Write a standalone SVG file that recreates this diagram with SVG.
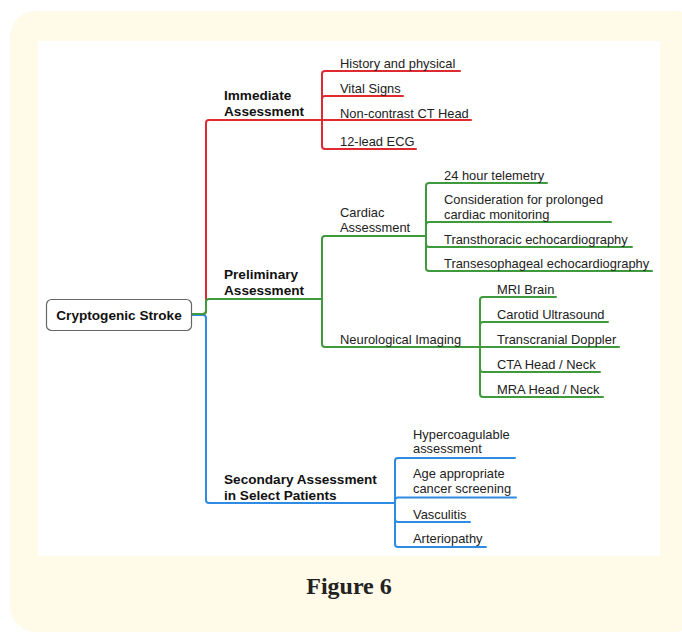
<svg xmlns="http://www.w3.org/2000/svg" width="682" height="634" viewBox="0 0 682 634">
<style>
.t{font-family:"Liberation Sans",Arial,sans-serif;font-size:12.9px;fill:#222}
.b{font-family:"Liberation Sans",Arial,sans-serif;font-size:13.6px;font-weight:bold;fill:#111}
.r{fill:none;stroke:#DE2A30;stroke-width:2;stroke-linecap:round}
.g{fill:none;stroke:#3E9A3C;stroke-width:2;stroke-linecap:round}
.u{fill:none;stroke:#2E8BE3;stroke-width:2;stroke-linecap:round}
</style>
<rect x="10" y="11" width="690" height="621" rx="26" fill="#FFFBE8"/>
<rect x="38" y="41" width="622" height="515" fill="#FFFFFF"/>
<g id="connectors">
<path class="r" d="M192,314 H203 Q206,314 206,311 V123 Q206,120 209,120 H322"/>
<path class="u" d="M192,315 H203 Q206,315 206,318 V500 Q206,503 209,503 H395"/>
<path class="g" d="M192,314 H203 Q206,314 206,311 V302 Q206,299 209,299 H322"/>
<path class="r" d="M322,120 V74 Q322,71 325,71 H460"/>
<path class="r" d="M322,120 V99 Q322,96 325,96 H403"/>
<path class="r" d="M322,120 H471"/>
<path class="r" d="M322,120 V146 Q322,149 325,149 H416"/>
<path class="g" d="M322,299 V239 Q322,236 325,236 H426"/>
<path class="g" d="M322,299 V344 Q322,347 325,347 H480"/>
<path class="g" d="M426,236 V186 Q426,183 429,183 H547"/>
<path class="g" d="M426,236 V225 Q426,222 429,222 H611"/>
<path class="g" d="M426,236 V244 Q426,247 429,247 H632"/>
<path class="g" d="M426,236 V268 Q426,271 429,271 H652"/>
<path class="g" d="M480,347 V300 Q480,297 483,297 H556"/>
<path class="g" d="M480,347 V325 Q480,322 483,322 H608"/>
<path class="g" d="M480,347 H619"/>
<path class="g" d="M480,347 V369 Q480,372 483,372 H600"/>
<path class="g" d="M480,347 V394 Q480,397 483,397 H603"/>
<path class="u" d="M395,503 V461 Q395,458 398,458 H515"/>
<path class="u" d="M395,503 V500.5 Q395,497.5 398,497.5 H516"/>
<path class="u" d="M395,503 V519 Q395,522 398,522 H470"/>
<path class="u" d="M395,503 V544 Q395,547 398,547 H486"/>
</g>
<g id="root">
<rect x="46.5" y="299.5" width="145" height="31" rx="5" fill="#fff" stroke="#666" stroke-width="1.2"/>
<text class="b" x="119" y="320" text-anchor="middle">Cryptogenic Stroke</text>
</g>
<g id="immediate">
<text class="b" x="224" y="100">Immediate</text>
<text class="b" x="224" y="116">Assessment</text>
</g>
<g id="preliminary">
<text class="b" x="224" y="279">Preliminary</text>
<text class="b" x="224" y="295">Assessment</text>
</g>
<g id="secondary">
<text class="b" x="224" y="484">Secondary Assessment</text>
<text class="b" x="224" y="499.5">in Select Patients</text>
</g>
<g id="history"><text class="t" x="340" y="67.5">History and physical</text></g>
<g id="vital"><text class="t" x="340" y="92.5">Vital Signs</text></g>
<g id="ct"><text class="t" x="340" y="117.5">Non-contrast CT Head</text></g>
<g id="ecg"><text class="t" x="340" y="145.5">12-lead ECG</text></g>
<g id="cardiac">
<text class="t" x="340" y="217">Cardiac</text>
<text class="t" x="340" y="232">Assessment</text>
</g>
<g id="neuro"><text class="t" x="340" y="344">Neurological Imaging</text></g>
<g id="telemetry"><text class="t" x="444" y="179.5">24 hour telemetry</text></g>
<g id="prolonged">
<text class="t" x="444" y="204">Consideration for prolonged</text>
<text class="t" x="444" y="218.5">cardiac monitoring</text>
</g>
<g id="tte"><text class="t" x="444" y="244">Transthoracic echocardiography</text></g>
<g id="tee"><text class="t" x="444" y="268">Transesophageal echocardiography</text></g>
<g id="mri"><text class="t" x="497" y="294">MRI Brain</text></g>
<g id="carotid"><text class="t" x="497" y="319">Carotid Ultrasound</text></g>
<g id="tcd"><text class="t" x="497" y="344">Transcranial Doppler</text></g>
<g id="cta"><text class="t" x="497" y="368.5">CTA Head / Neck</text></g>
<g id="mra"><text class="t" x="497" y="393.5">MRA Head / Neck</text></g>
<g id="hyper">
<text class="t" x="413" y="438.5">Hypercoagulable</text>
<text class="t" x="413" y="453">assessment</text>
</g>
<g id="cancer">
<text class="t" x="413" y="478">Age appropriate</text>
<text class="t" x="413" y="493">cancer screening</text>
</g>
<g id="vasculitis"><text class="t" x="413" y="518.5">Vasculitis</text></g>
<g id="arteriopathy"><text class="t" x="413" y="543">Arteriopathy</text></g>
<text x="349" y="594" text-anchor="middle" font-family="'Liberation Serif','Times New Roman',serif" font-weight="bold" font-size="24" fill="#222">Figure 6</text>
</svg>
